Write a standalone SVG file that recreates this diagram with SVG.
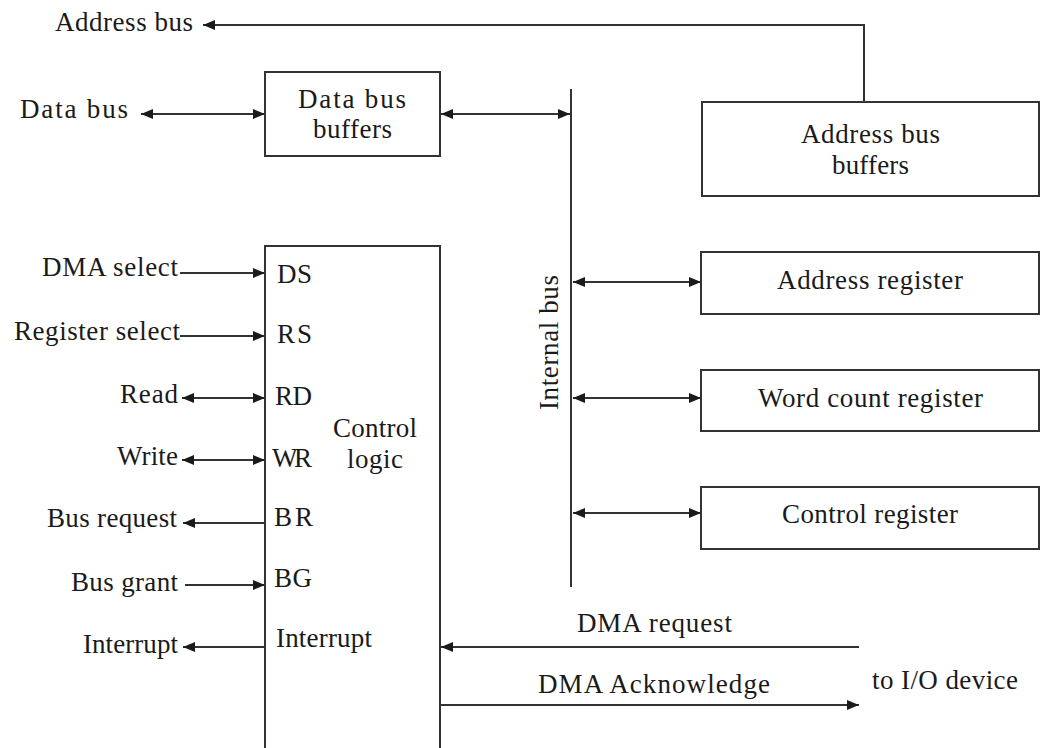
<svg xmlns="http://www.w3.org/2000/svg" width="1042" height="748" viewBox="0 0 1042 748">
<style>
text{font-family:"Liberation Serif","Times New Roman",serif;font-size:27px;fill:#1a1a1a;}
.box{fill:#fff;stroke:#333;stroke-width:2;}
.ln{fill:none;stroke:#333;stroke-width:2;}
.a2{marker-start:url(#ah);marker-end:url(#ah);}
.ae{marker-end:url(#ah);}
</style>
<defs>
<marker id="ah" viewBox="0 0 12 10" refX="12" refY="5" markerWidth="12" markerHeight="10" markerUnits="userSpaceOnUse" orient="auto-start-reverse">
<path d="M0,0 L12,5 L0,10 z" fill="#1a1a1a"/>
</marker>
</defs>
<rect width="1042" height="748" fill="#fff"/>
<g id="connectors">
<polyline class="ln ae" points="864,102 864,25 203,25"/>
<line class="ln a2" x1="141" y1="114" x2="265" y2="114"/>
<line class="ln a2" x1="441" y1="114" x2="570" y2="114"/>
<line class="ln" x1="571" y1="89" x2="571" y2="587"/>
<line class="ln a2" x1="573" y1="282" x2="701" y2="282"/>
<line class="ln a2" x1="573" y1="398" x2="701" y2="398"/>
<line class="ln a2" x1="573" y1="513" x2="701" y2="513"/>
<line class="ln ae" x1="180" y1="273" x2="265" y2="273"/>
<line class="ln ae" x1="180" y1="336" x2="265" y2="336"/>
<line class="ln a2" x1="182" y1="398" x2="265" y2="398"/>
<line class="ln a2" x1="182" y1="460" x2="265" y2="460"/>
<line class="ln ae" x1="265" y1="523" x2="183" y2="523"/>
<line class="ln ae" x1="185" y1="585" x2="265" y2="585"/>
<line class="ln ae" x1="265" y1="647" x2="183" y2="647"/>
<line class="ln ae" x1="859" y1="647" x2="441" y2="647"/>
<line class="ln ae" x1="441" y1="705" x2="859" y2="705"/>
</g>
<g id="address-bus-label"><text x="55" y="31" textLength="138" lengthAdjust="spacing">Address bus</text></g>
<g id="data-bus-label"><text x="20" y="118" textLength="108" lengthAdjust="spacing">Data  bus</text></g>
<g id="data-bus-buffers">
<rect class="box" x="265" y="72" width="175" height="84"/>
<text x="298" y="108" textLength="108" lengthAdjust="spacing">Data  bus</text>
<text x="313" y="138" textLength="79" lengthAdjust="spacing">buffers</text>
</g>
<g id="address-bus-buffers">
<rect class="box" x="702" y="102" width="337" height="94"/>
<text x="801" y="143" textLength="139" lengthAdjust="spacing">Address bus</text>
<text x="832" y="174" textLength="77" lengthAdjust="spacing">buffers</text>
</g>
<g id="address-register">
<rect class="box" x="701" y="252" width="338" height="62"/>
<text x="777" y="289" textLength="186" lengthAdjust="spacing">Address register</text>
</g>
<g id="word-count-register">
<rect class="box" x="701" y="370" width="338" height="61"/>
<text x="758" y="407" textLength="225" lengthAdjust="spacing">Word count register</text>
</g>
<g id="control-register">
<rect class="box" x="701" y="487" width="338" height="62"/>
<text x="782" y="523" textLength="176" lengthAdjust="spacing">Control register</text>
</g>
<g id="internal-bus-label">
<text transform="translate(558,410) rotate(-90)" x="0" y="0" textLength="135" lengthAdjust="spacing">Internal bus</text>
</g>
<g id="control-logic">
<rect class="box" x="265" y="246" width="175" height="560"/>
<text x="277" y="283" textLength="35" lengthAdjust="spacing">DS</text>
<text x="277" y="343" textLength="35" lengthAdjust="spacing">RS</text>
<text x="275" y="405" textLength="37" lengthAdjust="spacing">RD</text>
<text x="272" y="467" textLength="40" lengthAdjust="spacing">WR</text>
<text x="274" y="526" textLength="39" lengthAdjust="spacing">BR</text>
<text x="274" y="587" textLength="38" lengthAdjust="spacing">BG</text>
<text x="276" y="647" textLength="96" lengthAdjust="spacing">Interrupt</text>
<text x="333" y="437" textLength="84" lengthAdjust="spacing">Control</text>
<text x="347" y="468" textLength="56" lengthAdjust="spacing">logic</text>
</g>
<g id="left-signals">
<text x="42" y="276" textLength="136" lengthAdjust="spacing">DMA select</text>
<text x="14" y="340" textLength="166" lengthAdjust="spacing">Register select</text>
<text x="120" y="403" textLength="58" lengthAdjust="spacing">Read</text>
<text x="117" y="465" textLength="61" lengthAdjust="spacing">Write</text>
<text x="47" y="527" textLength="130" lengthAdjust="spacing">Bus request</text>
<text x="71" y="591" textLength="107" lengthAdjust="spacing">Bus grant</text>
<text x="83" y="653" textLength="95" lengthAdjust="spacing">Interrupt</text>
</g>
<g id="io-signals">
<text x="577" y="632" textLength="155" lengthAdjust="spacing">DMA request</text>
<text x="538" y="693" textLength="232" lengthAdjust="spacing">DMA Acknowledge</text>
<text x="872" y="689" textLength="146" lengthAdjust="spacing">to I/O device</text>
</g>
</svg>
